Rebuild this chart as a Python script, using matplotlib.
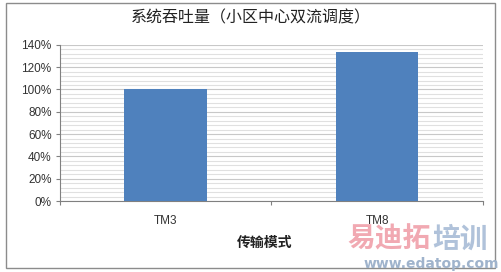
import matplotlib.pyplot as plt
from matplotlib.patches import Rectangle
from matplotlib.ticker import MultipleLocator, FuncFormatter

plt.rcParams['font.family'] = ['Noto Sans CJK SC', 'DejaVu Sans']
plt.rcParams['axes.unicode_minus'] = False

categories = ['TM3', 'TM8']
throughput = [1.00, 1.34]
title = '系统吞吐量（小区中心双流调度）'
xlabel = '传输模式'

fig = plt.figure(figsize=(5.02, 2.72), dpi=100)
ax = fig.add_axes([0.1195, 0.261, 0.8425, 0.574])

pos = list(range(len(categories)))
ax.bar(pos, throughput, width=0.39, color='#4f81bd', zorder=3)

ax.set_xlim(-0.5, len(categories) - 0.5)
ax.set_ylim(0, 1.4)

# y 轴
ax.yaxis.set_major_locator(MultipleLocator(0.2))
ax.yaxis.set_minor_locator(MultipleLocator(0.04))
ax.yaxis.set_major_formatter(FuncFormatter(lambda v, p: f'{v * 100:.0f}%'))
ax.grid(axis='y', which='major', color='#c8c8c8', linewidth=0.8, zorder=0)
ax.grid(axis='y', which='minor', color='#e0e0e0', linewidth=0.8, zorder=0)
ax.tick_params(axis='y', which='major', length=3, color='#808080',
               labelsize=8.5, labelcolor='#333333', pad=3)
ax.tick_params(axis='y', which='minor', length=0)
for lab in ax.get_yticklabels():
    lab.set_family(['Liberation Sans'])

# x 轴：刻度线在类别边界，标签在类别中心
ax.set_xticks([p - 0.5 for p in pos] + [pos[-1] + 0.5])
ax.set_xticklabels([])
ax.set_xticks(pos, minor=True)
ax.set_xticklabels(categories, minor=True)
ax.tick_params(axis='x', which='major', length=3, color='#808080')
ax.tick_params(axis='x', which='minor', length=0, labelsize=8.5,
               labelcolor='#333333', pad=10)
for lab in ax.get_xticklabels(minor=True):
    lab.set_family(['Liberation Sans'])

for side in ['top', 'right']:
    ax.spines[side].set_visible(False)
ax.spines['left'].set_color('#808080')
ax.spines['bottom'].set_color('#808080')

fig.text(0.5, 0.935, title, ha='center', va='center', fontsize=11.5, color='#222222')
fig.text(0.528, 0.107, xlabel, ha='center', va='center', fontsize=10,
         fontweight='bold', color='#222222')

# 水印
fig.text(0.858, 0.12, '易迪拓', ha='right', va='center', fontsize=20,
         fontweight='bold', color='#f0a0aa', alpha=0.9)
fig.text(0.862, 0.12, '培训', ha='left', va='center', fontsize=20,
         fontweight='bold', color='#a8bcd6', alpha=0.9)
fig.text(0.86, 0.03, 'www.edatop.com', ha='center', va='center', fontsize=10,
         fontweight='bold', color='#9fb3cc', family=['DejaVu Sans'])

# 外框
fig.patches.append(Rectangle((0.012, 0.015), 0.975, 0.975, transform=fig.transFigure,
                             fill=False, edgecolor='#8c8c8c', linewidth=1.0))

fig.savefig('out.png', dpi=100)
